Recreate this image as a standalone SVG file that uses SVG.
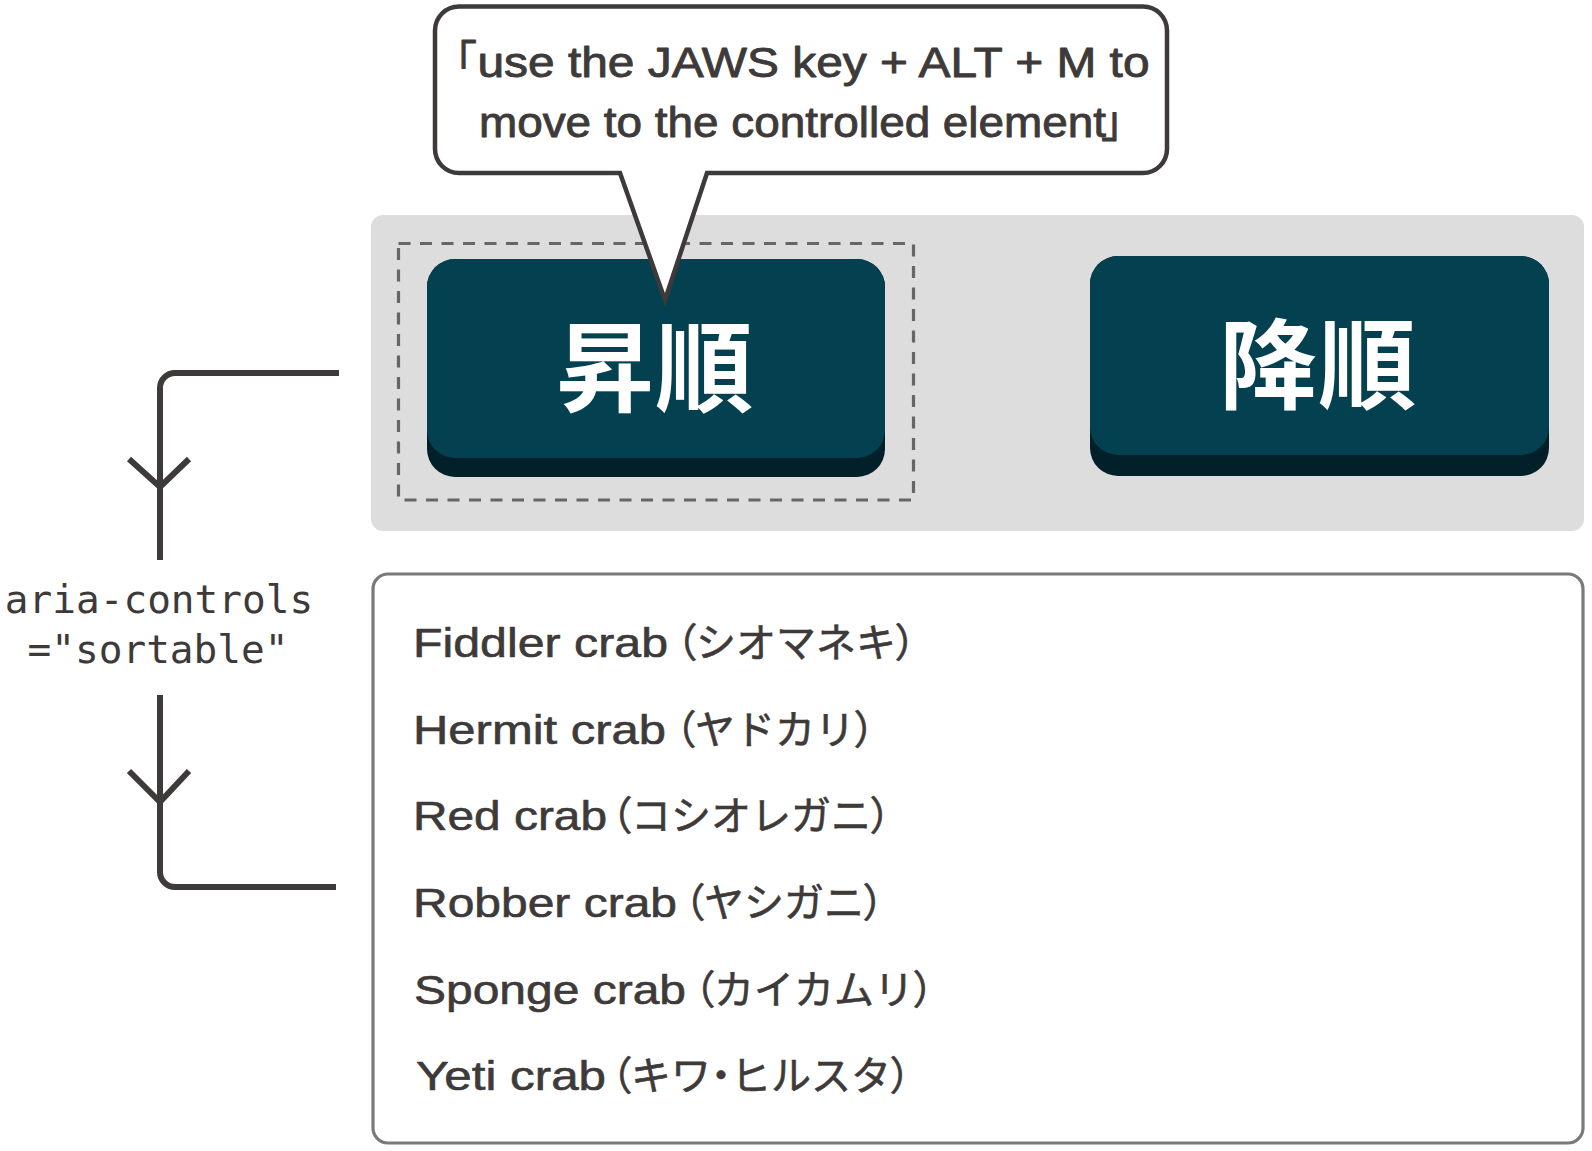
<svg xmlns="http://www.w3.org/2000/svg" width="1592" height="1151" viewBox="0 0 1592 1151">
<defs>
<style>
.ink{fill:none;stroke:#3d3a39;stroke-width:6;stroke-linejoin:miter}
.sans{font-family:"Liberation Sans","Noto Sans CJK JP",sans-serif;fill:#3d3a39;stroke:#3d3a39;stroke-linejoin:round}
.li{font-size:40px;stroke-width:0.6}
.bub{font-size:43px;stroke-width:0.9}
.paren{font-feature-settings:"palt"}
.btn-face{fill:#034150}
.btn-shadow{fill:#02202a}
.btn-label{font-family:"Noto Sans CJK JP",sans-serif;font-weight:700;font-size:98px;fill:#ffffff;letter-spacing:1px}
.mono{font-family:"DejaVu Sans Mono","Liberation Mono",monospace;font-size:39.4px;fill:#3d3a39}
</style>
</defs>
<rect width="1592" height="1151" fill="#ffffff"/>
<g id="toolbar">
<rect x="371" y="215" width="1213" height="316" rx="12" fill="#dddddd"/>
</g>
<g id="focus-ring">
<rect x="398.5" y="243.5" width="515" height="256.5" fill="none" stroke="#666666" stroke-width="3.2" stroke-dasharray="12 9.5"/>
</g>
<g id="btn-asc">
<rect class="btn-shadow" x="427" y="259" width="458" height="218" rx="28"/>
<rect class="btn-face" x="427" y="259" width="458" height="199" rx="28"/>
<text class="btn-label" x="655" y="404" text-anchor="middle">昇順</text>
</g>
<g id="btn-desc">
<rect class="btn-shadow" x="1090" y="256" width="459" height="220" rx="28"/>
<rect class="btn-face" x="1090" y="256" width="459" height="199" rx="28"/>
<text class="btn-label" x="1318" y="401" text-anchor="middle">降順</text>
</g>
<g id="sortable">
<rect x="373" y="574" width="1210" height="569" rx="15" fill="#ffffff" stroke="#7a7a7a" stroke-width="3.2"/>
<text class="sans li" y="657"><tspan x="413" textLength="255" lengthAdjust="spacingAndGlyphs">Fiddler crab</tspan><tspan class="paren" x="676">（</tspan>シオマネキ<tspan class="paren">）</tspan></text>
<text class="sans li" y="744"><tspan x="413" textLength="253" lengthAdjust="spacingAndGlyphs">Hermit crab</tspan><tspan class="paren" x="675">（</tspan>ヤドカリ<tspan class="paren">）</tspan></text>
<text class="sans li" y="830"><tspan x="413" textLength="194" lengthAdjust="spacingAndGlyphs">Red crab</tspan><tspan class="paren" x="611">（</tspan>コシオレガニ<tspan class="paren">）</tspan></text>
<text class="sans li" y="917"><tspan x="413" textLength="264" lengthAdjust="spacingAndGlyphs">Robber crab</tspan><tspan class="paren" x="684">（</tspan>ヤシガニ<tspan class="paren">）</tspan></text>
<text class="sans li" y="1004"><tspan x="414" textLength="272" lengthAdjust="spacingAndGlyphs">Sponge crab</tspan><tspan class="paren" x="694">（</tspan>カイカムリ<tspan class="paren">）</tspan></text>
<text class="sans li" y="1090"><tspan x="416" textLength="190" lengthAdjust="spacingAndGlyphs">Yeti crab</tspan><tspan class="paren" x="611">（</tspan>キワ<tspan class="paren">・</tspan>ヒルスタ<tspan class="paren">）</tspan></text>
</g>
<g id="connectors">
<path class="ink" d="M339,373 H175 A15,15 0 0 0 160,388 V560"/>
<path class="ink" d="M129,459 L160,487 L189,459"/>
<path class="ink" d="M160,695 V872 A15,15 0 0 0 175,887 H336"/>
<path class="ink" d="M129,771 L160,802 L189,771"/>
</g>
<g id="label-aria-controls">
<text class="mono" x="159" y="613" text-anchor="middle">aria-controls</text>
<text class="mono" x="158" y="663" text-anchor="middle">="sortable"</text>
</g>
<g id="callout">
<path d="M459,6.5 H1143 A24,24 0 0 1 1167,30.5 V149 A24,24 0 0 1 1143,173 H707 L665,300 L620,173 H459 A24,24 0 0 1 435,149 V30.5 A24,24 0 0 1 459,6.5 Z" fill="#ffffff" stroke="#3d3a39" stroke-width="4.5" stroke-linejoin="miter" stroke-miterlimit="20"/>
<text class="sans bub" y="77"><tspan x="434">「</tspan><tspan x="477.5" textLength="672" lengthAdjust="spacingAndGlyphs">use the JAWS key + ALT + M to</tspan></text>
<text class="sans bub" y="137"><tspan x="479" textLength="627" lengthAdjust="spacingAndGlyphs">move to the controlled element</tspan><tspan x="1101">」</tspan></text>
</g>
</svg>
